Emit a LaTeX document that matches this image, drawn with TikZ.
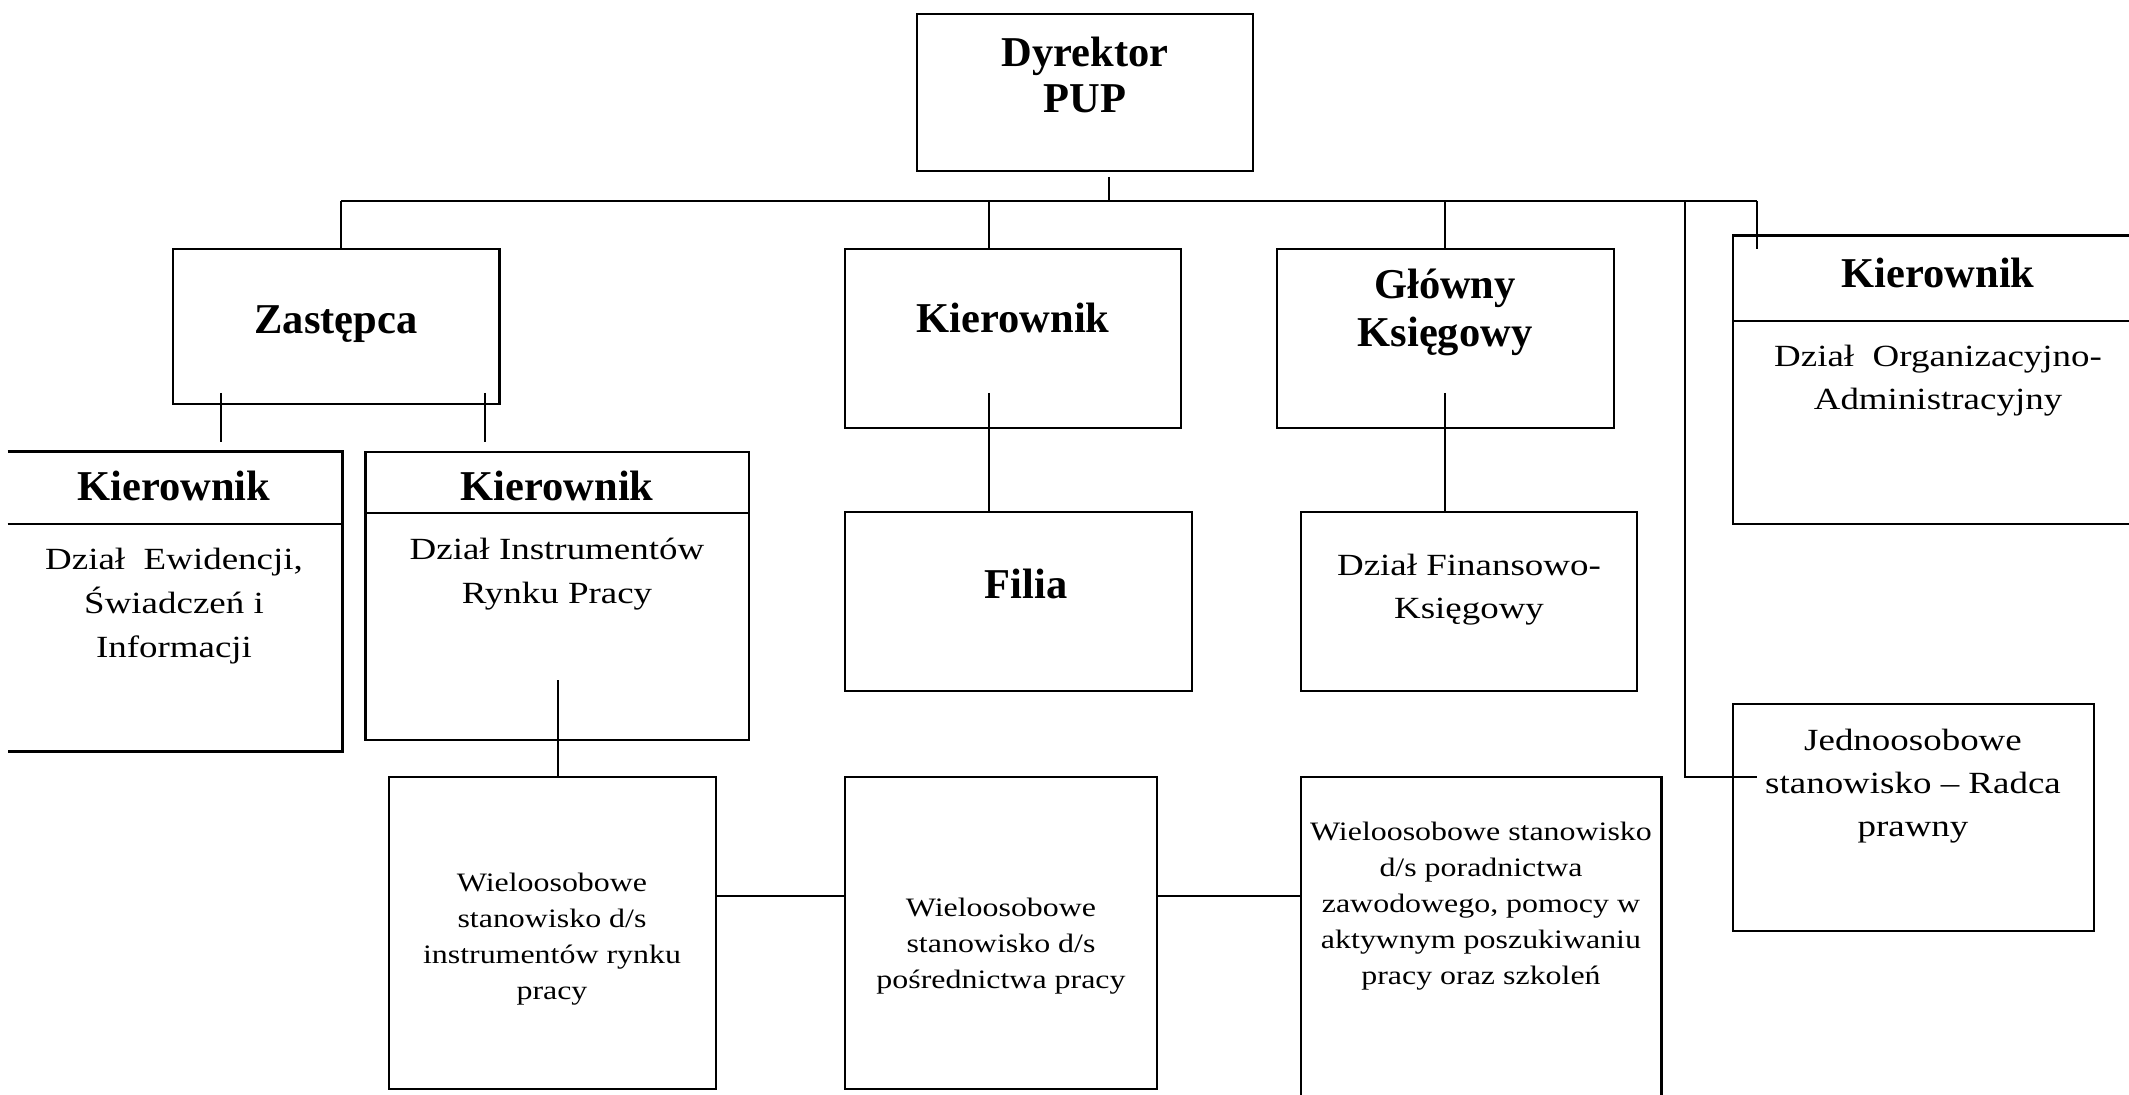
\documentclass[tikz,border=0pt]{standalone}
\usepackage{fontspec}
\setmainfont{Liberation Serif}
\newfontfamily\wfont[FakeStretch=1.2]{Liberation Serif}
\usetikzlibrary{fit}
\begin{document}
\begin{tikzpicture}[x=0.5pt,y=-0.5pt,
  box/.style={draw, line width=1.1pt, inner sep=0pt},
  area/.style={inner sep=0pt},
  edge/.style={line width=1.1pt},
  conn/.style={line width=0.7pt},
  ttl/.style={anchor=north, inner sep=0pt, align=center, font=\fontsize{21.25}{24}\selectfont\bfseries},
  body/.style={anchor=north, inner sep=0pt, align=center, font=\wfont\fontsize{15.4}{21.5}\selectfont},
  bodyw/.style={anchor=north, inner sep=0pt, align=center, font=\wfont\fontsize{15.4}{22}\selectfont},
  small/.style={anchor=north, inner sep=0pt, align=center, font=\wfont\fontsize{13.3}{18}\selectfont},
]
\useasboundingbox (0,0) rectangle (2129,1095);

% ---- box corners
\coordinate (dyrA) at (917,14);   \coordinate (dyrB) at (1253,171);
\coordinate (zasA) at (172.6,249); \coordinate (zasB) at (499.5,404);
\coordinate (kmA) at (845,249);   \coordinate (kmB) at (1181,428);
\coordinate (glA) at (1277,249);  \coordinate (glB) at (1614,428);
\coordinate (kiA) at (365.5,452); \coordinate (kiB) at (749,740);
\coordinate (keA) at (8,452);     \coordinate (keB) at (342,751);
\coordinate (koA) at (1733,236);  \coordinate (koB) at (2129,524);
\coordinate (fiA) at (845,512);   \coordinate (fiB) at (1192,691);
\coordinate (fnA) at (1301,512);  \coordinate (fnB) at (1637,691);
\coordinate (raA) at (1733,704);  \coordinate (raB) at (2094,931);
\coordinate (w1A) at (389,777);   \coordinate (w1B) at (716,1089);
\coordinate (w2A) at (845,777);   \coordinate (w2B) at (1157,1089);
\coordinate (w3A) at (1301,777);  \coordinate (w3B) at (1661,1100);

% ---- closed boxes
\node[box, fit=(dyrA)(dyrB)] (dyr) {};
\node[box, fit=(zasA)(zasB)] (zast) {};
\node[box, fit=(kmA)(kmB)] (kmid) {};
\node[box, fit=(glA)(glB)] (glow) {};
\node[box, fit=(kiA)(kiB)] (kinst) {};
\node[box, fit=(fiA)(fiB)] (filia) {};
\node[box, fit=(fnA)(fnB)] (fin) {};
\node[box, fit=(raA)(raB)] (radca) {};
\node[box, fit=(w1A)(w1B)] (w1) {};
\node[box, fit=(w2A)(w2B)] (w2) {};
% ---- open boxes
\node[area, fit=(keA)(keB)] (kew) {};
\node[area, fit=(koA)(koB)] (korg) {};
\node[area, fit=(w3A)(w3B)] (w3) {};
\draw[edge] (kew.north west) -- (kew.north east) -- (kew.south east) -- (kew.south west);
\draw[edge] (korg.north east) -- (korg.north west) -- (korg.south west) -- (korg.south east);
\draw[edge] (w3.south west) -- (w3.north west) -- (w3.north east) -- (w3.south east);
% ---- dividers
\draw[edge] (kew.west |- 0,524) -- (kew.east |- 0,524);
\draw[edge] (kinst.west |- 0,513) -- (kinst.east |- 0,513);
\draw[edge] (korg.west |- 0,321) -- (korg.east |- 0,321);

% ---- texts
\node[ttl] (tdyr) at (1085,36.7) {Dyrektor\\[-1pt]PUP};
\node[ttl] (tzas) at (336,305) {Zastępca};
\node[ttl] (tkm) at (1013,303) {Kierownik};
\node[ttl] (tgl) at (1445,268.7) {Główny\\Księgowy};
\node[ttl] (tko) at (1938,257.7) {Kierownik};
\node[ttl] (tke) at (174,471) {Kierownik};
\node[ttl] (tki) at (557,471) {Kierownik};
\node[ttl] (tfi) at (1026,568.7) {Filia};

\node[bodyw] (bke) at (174,547.7) {Dział\ \ Ewidencji,\\Świadczeń i\\Informacji};
\node[bodyw] (bki) at (557,537.7) {Dział Instrumentów\\Rynku Pracy};
\node[body] (bfn) at (1469,553.7) {Dział Finansowo-\\Księgowy};
\node[body] (bko) at (1938,344.7) {Dział\ \ Organizacyjno-\\Administracyjny};
\node[body] (bra) at (1913,728.7) {Jednoosobowe\\stanowisko – Radca\\prawny};

\node[small] (sw1) at (552,872.6) {Wieloosobowe\\stanowisko d/s\\instrumentów rynku\\pracy};
\node[small] (sw2) at (1001,897.6) {Wieloosobowe\\stanowisko d/s\\pośrednictwa pracy};
\node[small] (sw3) at (1481,821.6) {Wieloosobowe stanowisko\\d/s poradnictwa\\zawodowego, pomocy w\\aktywnym poszukiwaniu\\pracy oraz szkoleń};

% ---- connectors
\coordinate (dyrOut) at (1109,177);
\coordinate (busL) at (341,201);
\coordinate (busR) at (1757,201);
\coordinate (xkm) at (989,0);
\coordinate (xgl) at (1445,0);
\coordinate (xra) at (1685,0);
\coordinate (zL) at (221,393);
\coordinate (zR) at (485,393);
\coordinate (kiOut) at (558,680);
\coordinate (raIn) at (1757,777);
\coordinate (yRow) at (0,896);

\draw[conn] (dyrOut) -- (dyrOut |- busL);
\draw[conn] (busL) -- (busR);
\draw[conn] (busL) -- (busL |- zast.north);
\draw[conn] (xkm |- busL) -- (xkm |- kmid.north);
\draw[conn] (xgl |- busL) -- (xgl |- glow.north);
\draw[conn] (busR) -- (busR |- 0,249);
\draw[conn] (xra |- busL) -- (xra |- raIn) -- (raIn);
\draw[conn] (zL) -- (zL |- 0,442);
\draw[conn] (zR) -- (zR |- 0,442);
\draw[conn] (xkm |- zL) -- (xkm |- filia.north);
\draw[conn] (xgl |- zL) -- (xgl |- fin.north);
\draw[conn] (kiOut) -- (kiOut |- w1.north);
\draw[conn] (w1.east |- yRow) -- (w2.west |- yRow);
\draw[conn] (w2.east |- yRow) -- (w3.west |- yRow);
\end{tikzpicture}
\end{document}
